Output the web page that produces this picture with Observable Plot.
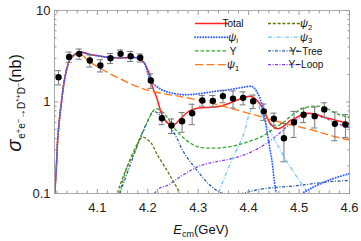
<!DOCTYPE html>
<html><head><meta charset="utf-8">
<script src="https://cdn.jsdelivr.net/npm/d3@7"></script>
<script src="https://cdn.jsdelivr.net/npm/@observablehq/plot@0.6"></script>
<style>body{margin:0;background:#fff;}#chart{width:361px;height:241px;overflow:hidden}</style>
</head><body><div id="chart"></div>
<script>
// ---- data (energy in GeV, cross section in nb) ----
const ptE = [4.023,4.044,4.064,4.085,4.106,4.126,4.146,4.166,4.185,4.206,4.228,4.247,4.268,4.288,4.308,4.329,4.349,4.369,4.389,4.409,4.430,4.450,4.470,4.490,4.509,4.531,4.550,4.571,4.592];
const ptV = [1.87,3.11,3.36,2.84,2.51,3.01,3.36,3.17,3.04,1.72,0.665,0.553,0.616,0.755,1.04,1.03,1.16,1.09,1.11,1.02,0.79,0.655,0.402,0.60,0.725,0.70,0.83,0.577,0.568];
const ptErr = [0.33,0.40,0.43,0.43,0.38,0.38,0.34,0.40,0.31,0.31,0.10,0.10,0.15,0.19,0.14,0.15,0.18,0.23,0.18,0.17,0.16,0.10,0.18,0.19,0.13,0.18,0.15,0.20,0.16];

const totalE = [4.0155,4.0187,4.0212,4.0252,4.030,4.0345,4.0411,4.0464,4.0637,4.0861,4.1192,4.1522,4.1788,4.1919,4.2052,4.2085,4.2185,4.2284,4.2415,4.2514,4.2647,4.2812,4.2978,4.3242,4.344,4.3639,4.3837,4.4036,4.4169,4.430,4.4433,4.4565,4.4696,4.4829,4.4962,4.5093,4.5292,4.549,4.5623,4.5821,4.6];
const totalV = [0.1,0.194,0.38,0.68,1.13,1.72,2.5,2.97,3.5,3.3,3.09,3.04,3.04,2.72,1.87,1.51,1.08,0.72,0.58,0.56,0.655,0.79,0.855,0.877,0.90,0.98,1.08,1.157,1.04,0.81,0.578,0.51,0.544,0.628,0.682,0.743,0.743,0.682,0.655,0.612,0.582];

const psiiE = [4.0155,4.0187,4.0212,4.0252,4.030,4.0345,4.0411,4.0464,4.0637,4.0861,4.1192,4.1522,4.1788,4.1919,4.2052,4.2151,4.231,4.2647,4.2978,4.3308,4.3639,4.3903,4.4069,4.4169,4.4268,4.4333,4.4399,4.4466,4.4512,4.4552,4.465,4.49,4.5028,4.5226,4.5623,4.6];
const psiiV = [0.1,0.194,0.38,0.68,1.13,1.72,2.5,2.97,3.5,3.3,3.09,3.04,3.04,2.72,1.72,1.514,1.335,1.208,1.223,1.302,1.369,1.451,1.477,1.28,0.916,0.601,0.364,0.220,0.133,0.095,0.05,0.06,0.095,0.113,0.142,0.165];

const yE = [4.1437,4.1589,4.1788,4.1919,4.2052,4.2151,4.225,4.2383,4.2514,4.2712,4.2978,4.3308,4.3639,4.397,4.43,4.4498,4.4696,4.4895,4.5093,4.5292,4.549,4.5756,4.6];
const yV = [0.1,0.194,0.349,0.488,0.712,0.843,0.807,0.682,0.526,0.404,0.326,0.313,0.326,0.364,0.431,0.51,0.601,0.743,0.855,0.90,0.877,0.743,0.675];

const psi1E = [4.0155,4.0187,4.0212,4.0252,4.030,4.0345,4.0411,4.0464,4.0637,4.0861,4.1192,4.1522,4.1853,4.2185,4.2647,4.3308,4.397,4.4631,4.5292,4.5623,4.6];
const psi1V = [0.1,0.194,0.38,0.68,1.13,1.72,2.5,2.97,3.36,2.72,2.117,1.718,1.43,1.27,1.148,0.956,0.762,0.601,0.488,0.431,0.383];

const psi2E = [4.136,4.1403,4.1589,4.1754,4.1887,4.2052,4.2185,4.2383,4.2514,4.2647,4.2706];
const psi2V = [0.08,0.103,0.194,0.295,0.412,0.364,0.267,0.178,0.133,0.099,0.084];

const psi3E = [4.3361,4.3407,4.3639,4.3903,4.4002,4.4101,4.4155,4.4268,4.4433,4.4631,4.4829,4.5028,4.5161,4.521];
const psi3V = [0.084,0.1025,0.215,0.449,0.712,0.956,1.0,0.712,0.468,0.295,0.194,0.133,0.1025,0.084];

const ytreeE = [4.1417,4.1456,4.1655,4.1853,4.1986,4.2117,4.231,4.2514,4.2712,4.2978,4.3242,4.344,4.3679,4.3937,4.43,4.4962,4.5623,4.6];
const ytreeV = [0.084,0.103,0.208,0.412,0.601,0.79,0.655,0.468,0.283,0.178,0.122,0.1025,0.095,0.1025,0.113,0.122,0.135,0.139];

const yloopE = [4.2091,4.2131,4.225,4.2383,4.2647,4.2885,4.3044,4.3308,4.3639,4.397,4.4234,4.4433,4.4597,4.4764,4.4895,4.5028,4.5161,4.5425,4.5689,4.6];
const yloopV = [0.084,0.1,0.116,0.122,0.153,0.183,0.202,0.220,0.239,0.272,0.321,0.380,0.449,0.540,0.601,0.682,0.743,0.712,0.601,0.525];

const xMajor = [4.1,4.2,4.3,4.4,4.5,4.6];
const xMinor = [4.02,4.04,4.06,4.08,4.12,4.14,4.16,4.18,4.22,4.24,4.26,4.28,4.32,4.34,4.36,4.38,4.42,4.44,4.46,4.48,4.52,4.54,4.56,4.58];
const yMajor = [0.1,1,10];
const yMinor = [0.2,0.3,0.4,0.5,0.6,0.7,0.8,0.9,2,3,4,5,6,7,8,9];

// ---- styles ----
const st = {
  total: {stroke:"#ff2020", dash:null, w:1.5},
  psii:  {stroke:"#3060ff", dash:"0.1,2.6", w:1.9, cap:"round"},
  Y:     {stroke:"#2ea82e", dash:"3.5,2", w:1.3},
  psi1:  {stroke:"#ff7a1a", dash:"8,3.5", w:1.4},
  psi2:  {stroke:"#6e6e10", dash:"3,1.8", w:1.3},
  psi3:  {stroke:"#6cc8ff", dash:"4,1.8,1,1.8", w:1.3},
  ytree: {stroke:"#2a5ea8", dash:"3,1.5,1,1.5", w:1.3},
  yloop: {stroke:"#8a42f5", dash:"3,1.5,1,1.5", w:1.3}
};
const rows = (E, V) => E.map((e, i) => ({E: e, v: V[i]}));
const lineMark = (E, V, s) => Plot.line(rows(E, V), {
  x: "E", y: "v", stroke: s.stroke, strokeWidth: s.w,
  strokeDasharray: s.dash, strokeLinecap: s.cap || "butt",
  curve: "catmull-rom", clip: true
});
const pts = ptE.map((e, i) => ({E: e, v: ptV[i], lo: ptV[i] - ptErr[i], hi: ptV[i] + ptErr[i]}));
const capW = 0.006;
const fmt = d => d === 0.1 ? "0.1" : String(d);
const tickCol = "#999";

const plot = Plot.plot({
  width: 361, height: 241,
  marginLeft: 54, marginRight: 12, marginTop: 10, marginBottom: 48,
  x: {domain: [4.015, 4.6]},
  y: {type: "log", domain: [0.1, 10]},
  style: {fontFamily: "Liberation Sans, Arial, sans-serif", fontSize: "13px", background: "#fff", color: "#222"},
  marks: [
    lineMark(yloopE, yloopV, st.yloop),
    lineMark(ytreeE, ytreeV, st.ytree),
    lineMark(psi3E, psi3V, st.psi3),
    lineMark(psi2E, psi2V, st.psi2),
    lineMark(yE, yV, st.Y),
    lineMark(totalE, totalV, st.total),
    lineMark(psi1E, psi1V, st.psi1),
    lineMark(psiiE, psiiV, st.psii),
    Plot.ruleX(pts, {x: "E", y1: "lo", y2: "hi", stroke: "#777", strokeWidth: 1}),
    Plot.ruleY(pts, {y: "lo", x1: d => d.E - capW, x2: d => d.E + capW, stroke: "#777", strokeWidth: 1}),
    Plot.ruleY(pts, {y: "hi", x1: d => d.E - capW, x2: d => d.E + capW, stroke: "#777", strokeWidth: 1}),
    Plot.dot(pts, {x: "E", y: "v", r: 3.2, fill: "#000", stroke: "none"}),
    Plot.frame({stroke: "#aaa"}),
    // ticks (inward)
    Plot.axisX({anchor: "bottom", ticks: xMajor, tickSize: -4, tickFormat: () => "", stroke: tickCol, label: null}),
    Plot.axisX({anchor: "bottom", ticks: xMinor, tickSize: -2.5, tickFormat: () => "", stroke: tickCol, label: null}),
    Plot.axisX({anchor: "top", ticks: xMajor, tickSize: -4, tickFormat: () => "", stroke: tickCol, label: null}),
    Plot.axisX({anchor: "top", ticks: xMinor, tickSize: -2.5, tickFormat: () => "", stroke: tickCol, label: null}),
    Plot.axisY({anchor: "left", ticks: yMajor, tickSize: -4, tickFormat: () => "", stroke: tickCol, label: null}),
    Plot.axisY({anchor: "left", ticks: yMinor, tickSize: -2.5, tickFormat: () => "", stroke: tickCol, label: null}),
    Plot.axisY({anchor: "right", ticks: yMajor, tickSize: -4, tickFormat: () => "", stroke: tickCol, label: null}),
    Plot.axisY({anchor: "right", ticks: yMinor, tickSize: -2.5, tickFormat: () => "", stroke: tickCol, label: null}),
    // labels
    Plot.axisX({anchor: "bottom", ticks: xMajor, tickSize: 0, tickPadding: 9, tickFormat: d3.format(".1f"), fontSize: 13, label: null}),
    Plot.axisY({anchor: "left", ticks: yMajor, tickSize: 0, tickPadding: 4, tickFormat: fmt, fontSize: 13, label: null})
  ]
});
document.getElementById("chart").appendChild(plot);

// ---- axis titles & legend ----
const svg = d3.select(plot);
// x title
const xt = svg.append("text").attr("x", 201).attr("y", 234).attr("text-anchor", "middle")
  .attr("font-size", 13).attr("fill", "#111");
xt.append("tspan").attr("font-style", "italic").text("E");
xt.append("tspan").attr("font-size", 9).attr("dy", 3).text("cm");
xt.append("tspan").attr("dy", -3).text("(GeV)");
// y title: σ_{e+e− → D*+ D−}(nb)
const yt = svg.append("text").attr("transform", "translate(21,103) rotate(-90)")
  .attr("text-anchor", "middle").attr("font-size", 16).attr("fill", "#111");
yt.append("tspan").attr("font-style", "italic").attr("font-size", 20).text("σ");
const subParts = [["e", 0], ["+", 1], ["e", 0], ["−", 1], ["→", 0], ["D", 0], ["*+", 1], ["D", 0], ["−", 1]];
let level = 0;
yt.append("tspan").attr("font-size", 10).attr("dy", 4).text("\u200A");
for (const [s, sup] of subParts) {
  const dy = sup === level ? 0 : (sup ? -4 : 4);
  level = sup;
  yt.append("tspan").attr("font-size", sup ? 7.5 : 10).attr("dy", dy).text(s);
}
yt.append("tspan").attr("dy", level ? -0 - 0 : -4).attr("dy", level ? 0 : -4).text("(nb)");

// legend
const legend = [
  {label: ["Total"], s: st.total, col: 0, row: 0},
  {label: ["ψ", "i"], s: st.psii, col: 0, row: 1},
  {label: ["Y"], s: st.Y, col: 0, row: 2},
  {label: ["ψ", "1"], s: st.psi1, col: 0, row: 3},
  {label: ["ψ", "2"], s: st.psi2, col: 1, row: 0},
  {label: ["ψ", "3"], s: st.psi3, col: 1, row: 1},
  {label: ["Y−Tree"], s: st.ytree, col: 1, row: 2},
  {label: ["Y−Loop"], s: st.yloop, col: 1, row: 3}
];
const colX = [195, 268], lineLen = 33, rowY = [23.5, 37.2, 50.9, 64.6];
for (const L of legend) {
  const x0 = colX[L.col], y0 = rowY[L.row];
  svg.append("line").attr("x1", x0).attr("x2", x0 + lineLen).attr("y1", y0).attr("y2", y0)
    .attr("stroke", L.s.stroke).attr("stroke-width", L.s.w)
    .attr("stroke-dasharray", L.s.dash).attr("stroke-linecap", L.s.cap || "butt");
  const t = svg.append("text").attr("x", x0 + lineLen + 5).attr("y", y0 + 3.6)
    .attr("font-size", 10).attr("fill", "#111");
  if (L.label.length === 1) t.text(L.label[0]);
  else {
    t.append("tspan").attr("font-style", "italic").attr("font-size", 11).text(L.label[0]);
    t.append("tspan").attr("font-size", 7.5).attr("dy", 2.5).text(L.label[1]);
  }
}
</script>
</body></html>
